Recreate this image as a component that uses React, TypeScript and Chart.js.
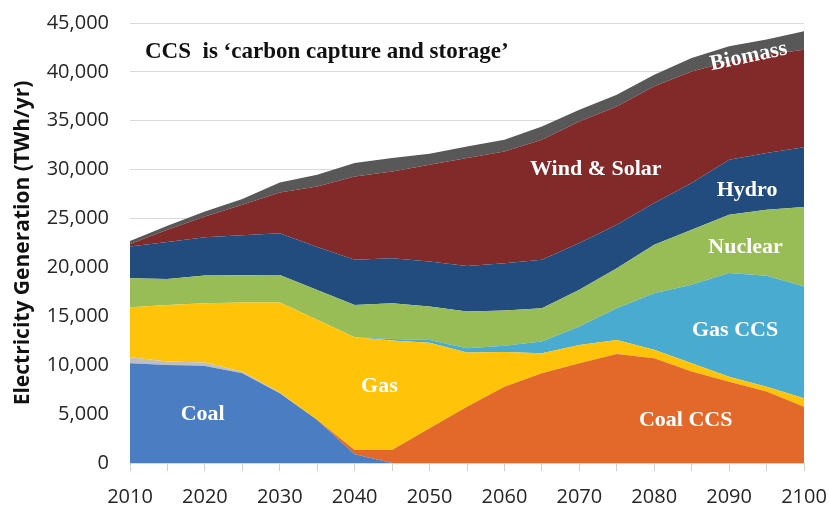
import React, { useEffect, useRef } from "react";
import { Chart, registerables } from "chart.js";

Chart.register(...registerables);

const years = [2010, 2015, 2020, 2025, 2030, 2035, 2040, 2045, 2050, 2055, 2060, 2065, 2070, 2075, 2080, 2085, 2090, 2095, 2100];
const coal = [10200, 10030, 9930, 9180, 7130, 4400, 900, 0, 0, 0, 0, 0, 0, 0, 0, 0, 0, 0, 0];
const coalCCS = [0, 0, 0, 0, 0, 0, 430, 1330, 3550, 5760, 7810, 9180, 10200, 11160, 10720, 9350, 8320, 7300, 5760];
const oil = [620, 340, 340, 150, 80, 0, 0, 0, 0, 0, 0, 0, 0, 0, 0, 0, 0, 0, 0];
const gas = [5120, 5800, 6080, 7080, 9200, 10240, 11540, 11190, 8760, 5530, 3550, 2050, 1880, 1430, 850, 850, 510, 510, 860];
const gasCCS = [0, 0, 0, 0, 0, 0, 0, 150, 280, 450, 620, 1190, 1870, 3240, 5800, 8020, 10590, 11330, 11430];
const nuclear = [2960, 2660, 2820, 2790, 2830, 3060, 3300, 3680, 3410, 3750, 3610, 3410, 3760, 4100, 4940, 5630, 5960, 6760, 8120];
const hydro = [3240, 3770, 3930, 4100, 4260, 4400, 4610, 4600, 4600, 4670, 4850, 4950, 4780, 4430, 4270, 4780, 5630, 5800, 6130];
const windSolar = [260, 1250, 2110, 3110, 4170, 6180, 8520, 8860, 9900, 11030, 11420, 12280, 12440, 12110, 11940, 11420, 10060, 10060, 9970];
const biomass = [300, 410, 510, 600, 1020, 1200, 1370, 1380, 1130, 1190, 1200, 1360, 1200, 1200, 1190, 1370, 1540, 1540, 1880];

const seriesNames = ["Coal", "Coal CCS", "Oil", "Gas", "Gas CCS", "Nuclear", "Hydro", "Wind & Solar", "Biomass"];
const seriesValues = [coal, coalCCS, oil, gas, gasCCS, nuclear, hydro, windSolar, biomass];
const seriesColors = ["#4a7dc1", "#e2692a", "#bfbfbf", "#ffc409", "#48abcf", "#98bc56", "#224c7e", "#822a2a", "#585858"];

const noteText = "CCS  is \u2018carbon capture and storage\u2019";
// area labels: [text, year, value, rotation(deg)]
const areaLabels: [string, number, number, number][] = [
  ["Coal", 2019.7, 5020, 0],
  ["Gas", 2043.3, 7880, 0],
  ["Coal CCS", 2084.2, 4400, 0],
  ["Gas CCS", 2090.8, 13610, 0],
  ["Nuclear", 2092.2, 22110, 0],
  ["Hydro", 2092.4, 27840, 0],
  ["Wind & Solar", 2072.2, 29990, 0],
  ["Biomass", 2092.6, 41560, -12],
];

const labelPlugin = {
  id: "areaLabels",
  afterDatasetsDraw(chart: any) {
    const { ctx, scales } = chart;
    const xs = scales.x;
    const ys = scales.y;
    ctx.save();
    ctx.font = "bold 23px 'Liberation Serif', 'DejaVu Serif', serif";
    ctx.textBaseline = "middle";
    ctx.fillStyle = "#111111";
    ctx.textAlign = "left";
    ctx.fillText(noteText, xs.getPixelForValue(2012.0), ys.getPixelForValue(42070));
    ctx.font = "bold 22px 'Liberation Serif', 'DejaVu Serif', serif";
    ctx.fillStyle = "#ffffff";
    ctx.textAlign = "center";
    for (const [t, xv, yv, rot] of areaLabels) {
      const px = xs.getPixelForValue(xv);
      const py = ys.getPixelForValue(yv);
      ctx.save();
      ctx.translate(px, py);
      ctx.rotate((rot * Math.PI) / 180);
      ctx.fillText(t, 0, 0);
      ctx.restore();
    }
    ctx.restore();
  },
};

export default function App() {
  const ref = useRef<HTMLCanvasElement>(null);
  useEffect(() => {
    if (!ref.current) return;
    const datasets = seriesNames.map((name, i) => ({
      label: name,
      data: years.map((y, j) => ({ x: y, y: seriesValues[i][j] })),
      backgroundColor: seriesColors[i],
      borderColor: seriesColors[i],
      borderWidth: 0,
      pointRadius: 0,
      tension: 0,
      fill: i === 0 ? "origin" : "-1",
    }));
    const chart = new Chart(ref.current, {
      type: "line",
      data: { datasets },
      plugins: [labelPlugin],
      options: {
        responsive: false,
        animation: false,
        layout: { padding: { top: 23, right: 25, left: 0, bottom: 0 } },
        plugins: { legend: { display: false }, tooltip: { enabled: false } },
        scales: {
          x: {
            type: "linear",
            min: 2010,
            max: 2100,
            afterFit: (s: any) => {
              s.height = 45;
              s.paddingLeft = 0;
              s.paddingRight = 0;
            },
            border: { display: false },
            grid: { drawOnChartArea: false, drawTicks: true, tickLength: 8, color: "#d0d0d0" },
            ticks: {
              stepSize: 5,
              autoSkip: false,
              maxRotation: 0,
              padding: 14,
              color: "#262626",
              font: { family: "'Open Sans', sans-serif", size: 20 },
              callback: (v: any) => (Number(v) % 10 === 0 ? String(v) : ""),
            },
          },
          y: {
            stacked: true,
            min: 0,
            max: 45000,
            afterFit: (s: any) => {
              s.width = 130;
              s.paddingTop = 0;
              s.paddingBottom = 0;
            },
            border: { display: false },
            grid: { color: "#d9d9d9", drawTicks: false },
            ticks: {
              stepSize: 5000,
              padding: 21,
              color: "#262626",
              font: { family: "'Open Sans', sans-serif", size: 20 },
              callback: (v: any) => Number(v).toLocaleString("en-US"),
            },
            title: {
              display: true,
              text: "Electricity Generation (TWh/yr)",
              color: "#111111",
              padding: { top: 10, bottom: 0 },
              font: { family: "'Open Sans', sans-serif", size: 21, weight: "bold" },
            },
          },
        },
      },
    } as any);
    return () => chart.destroy();
  }, []);
  return (
    <div style={{ position: "fixed", left: 0, top: 0, width: 829, height: 508, background: "#ffffff" }}>
      <canvas ref={ref} width={829} height={508} />
    </div>
  );
}
